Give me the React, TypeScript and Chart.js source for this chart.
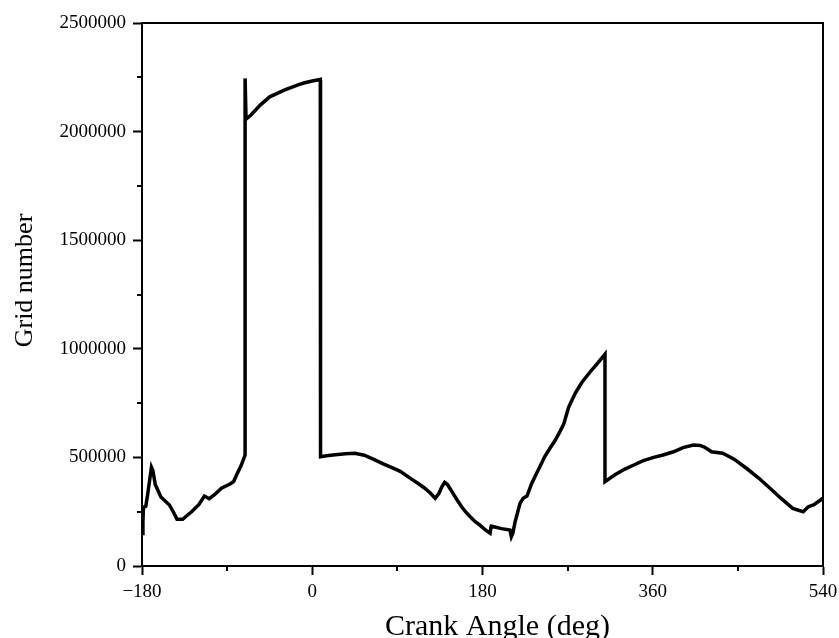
import React, { useEffect, useRef } from "react";
import { Chart, registerables } from "chart.js";

Chart.register(...registerables);

// Crank angle (deg)
const crankAngle: number[] = [
  -180, -179, -178.5, -176, -174, -170, -168.5, -166, -160, -151, -147, -143, -137, -133, -127, -120, -114, -109, -103, -96, -86, -83, -80, -75, -71,
  -71, -70, -65, -55, -45, -29, -15, -8, 0, 8.5,
  8.5, 8.8, 9, 15, 22, 35, 45, 55, 65, 75, 85, 93, 105, 112, 119, 125, 130, 134, 137, 140, 143, 148, 153, 158, 162, 167, 172, 177, 182, 188,
  189, 190, 200, 209, 210.5, 212, 214.5, 219.7, 223, 227, 232, 237, 246, 251, 257, 262, 266, 271, 278, 285, 295, 302, 309.5,
  309.5, 320, 330, 340, 350, 361, 370, 382, 392, 403, 410, 414, 419, 422, 434, 446, 459, 472, 484, 496, 508, 519, 524.5, 530, 540,
];

// Grid number
const gridNumber: number[] = [
  150000, 200000, 270000, 275000, 330000, 455000, 440000, 375000, 318000, 281000, 250000, 215000, 215000, 230000, 252000, 282000, 322000, 310000, 330000, 358000, 380000, 390000, 419000, 465000, 511000,
  2245000, 2057000, 2075000, 2122000, 2160000, 2192000, 2215000, 2225000, 2233000, 2240000,
  790000, 570000, 503000, 508000, 511000, 517000, 519000, 510000, 491000, 470000, 452000, 436000, 400000, 380000, 358000, 335000, 312000, 335000, 365000, 385000, 375000, 340000, 305000, 273000, 250000, 227000, 205000, 189000, 170000, 151000,
  180000, 183000, 172000, 166000, 135000, 150000, 204000, 289000, 312000, 322000, 380000, 425000, 505000, 540000, 580000, 620000, 655000, 730000, 795000, 845000, 900000, 935000, 975000,
  388000, 420000, 445000, 465000, 485000, 500000, 510000, 526000, 545000, 557000, 555000, 549000, 535000, 526000, 519000, 492000, 450000, 405000, 358000, 310000, 265000, 250000, 273000, 281000, 312000,
];

const xMajorTicks: number[] = [-180, 0, 180, 360, 540];
const xMinorTicks: number[] = [-90, 90, 270, 450];
const yMajorTicks: number[] = [0, 500000, 1000000, 1500000, 2000000, 2500000];
const yMinorTicks: number[] = [250000, 750000, 1250000, 1750000, 2250000];

const xTitle = "Crank Angle (deg)";
const yTitle = "Grid number";

const FONT = "'Liberation Serif', 'Times New Roman', serif";

export default function App() {
  const ref = useRef<HTMLCanvasElement | null>(null);

  useEffect(() => {
    if (!ref.current) return;
    const points = crankAngle.map((x, i) => ({ x, y: gridNumber[i] }));

    const framePlugin = {
      id: "frameAndMinor",
      afterDraw(chart: any) {
        const { ctx, chartArea, scales } = chart;
        ctx.save();
        ctx.strokeStyle = "#000";
        ctx.lineWidth = 2;
        ctx.beginPath();
        ctx.moveTo(chartArea.left, chartArea.top);
        ctx.lineTo(chartArea.right, chartArea.top);
        ctx.lineTo(chartArea.right, chartArea.bottom);
        ctx.stroke();
        // minor ticks
        ctx.beginPath();
        xMinorTicks.forEach((v) => {
          const px = Math.round(scales.x.getPixelForValue(v));
          ctx.moveTo(px, chartArea.bottom);
          ctx.lineTo(px, chartArea.bottom + 5);
        });
        yMinorTicks.forEach((v) => {
          const py = Math.round(scales.y.getPixelForValue(v));
          ctx.moveTo(chartArea.left - 5, py);
          ctx.lineTo(chartArea.left, py);
        });
        ctx.stroke();
        // axis titles
        ctx.fillStyle = "#000";
        ctx.textAlign = "center";
        ctx.textBaseline = "alphabetic";
        ctx.font = `30px ${FONT}`;
        const cx = (chartArea.left + chartArea.right) / 2 + 15;
        ctx.fillText(xTitle, cx, 635);
        ctx.save();
        const cy = (chartArea.top + chartArea.bottom) / 2 - 14;
        ctx.translate(32, cy);
        ctx.rotate(-Math.PI / 2);
        ctx.font = `26px ${FONT}`;
        ctx.fillText(yTitle, 0, 0);
        ctx.restore();
        ctx.restore();
      },
    };

    const chart = new Chart(ref.current, {
      type: "line",
      data: {
        datasets: [
          {
            data: points,
            borderColor: "#000",
            borderWidth: 3.5,
            pointRadius: 0,
            tension: 0,
            fill: false,
          },
        ],
      },
      options: {
        animation: false,
        responsive: false,
        layout: { padding: { top: 23, right: 16, left: 0, bottom: 0 } },
        plugins: {
          legend: { display: false },
          tooltip: { enabled: false },
        },
        scales: {
          x: {
            type: "linear",
            min: -180,
            max: 540,
            afterBuildTicks: (scale: any) => {
              scale.ticks = xMajorTicks.map((v) => ({ value: v }));
            },
            afterFit: (scale: any) => {
              scale.height = 72;
              scale.paddingLeft = 0;
              scale.paddingRight = 0;
            },
            ticks: {
              color: "#000",
              font: { family: FONT, size: 19 },
              padding: 6,
              maxRotation: 0,
              autoSkip: false,
              callback: (v: any) => String(v).replace("-", "\u2212"),
            },
            grid: {
              drawOnChartArea: false,
              drawTicks: true,
              tickLength: 9,
              tickWidth: 2,
              tickColor: "#000",
            },
            border: { display: true, color: "#000", width: 2 },
          },
          y: {
            type: "linear",
            min: 0,
            max: 2500000,
            afterBuildTicks: (scale: any) => {
              scale.ticks = yMajorTicks.map((v) => ({ value: v }));
            },
            afterFit: (scale: any) => {
              scale.width = 142;
              scale.paddingTop = 0;
              scale.paddingBottom = 0;
            },
            ticks: {
              color: "#000",
              font: { family: FONT, size: 19 },
              padding: 7,
              autoSkip: false,
              callback: (v: any) => String(v),
            },
            grid: {
              drawOnChartArea: false,
              drawTicks: true,
              tickLength: 9,
              tickWidth: 2,
              tickColor: "#000",
            },
            border: { display: true, color: "#000", width: 2 },
          },
        },
      },
      plugins: [framePlugin],
    } as any);

    return () => chart.destroy();
  }, []);

  return (
    <div style={{ position: "absolute", left: 0, top: 0, width: 839, height: 638, background: "#fff" }}>
      <canvas ref={ref} width={839} height={638} style={{ display: "block" }} />
    </div>
  );
}
